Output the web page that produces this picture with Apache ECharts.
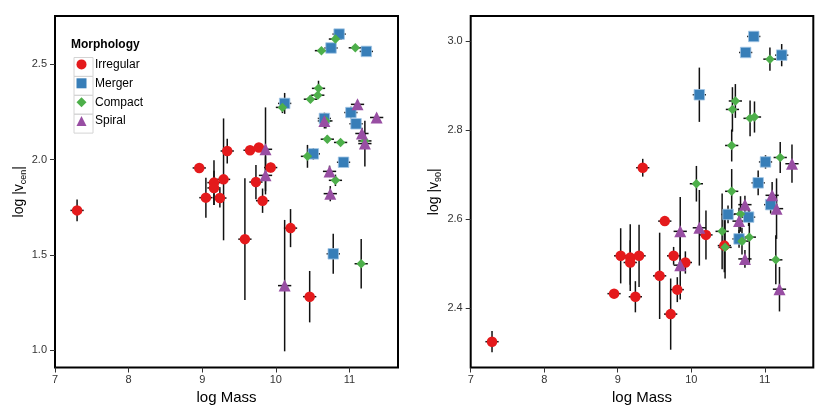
<!DOCTYPE html>
<html>
<head>
<meta charset="utf-8">
<script src="https://cdn.jsdelivr.net/npm/echarts@6/dist/echarts.min.js"></script>
<style>
html,body{margin:0;padding:0;background:#fff;}
#chart{width:830px;height:415px;}
</style>
</head>
<body>
<div id="chart"></div>
<script>
// ---------- data ----------
const MORPHOLOGIES = ['Irregular', 'Merger', 'Compact', 'Spiral'];
const X_TICKS = [7, 8, 9, 10, 11];
const CEN_TICKS = [1.0, 1.5, 2.0, 2.5];
const V90_TICKS = [2.4, 2.6, 2.8, 3.0];
const MASS_ERR = 0.09;

// [log Mass, log |v_cen|, error]
const IRREGULAR_CEN = [
  [7.30, 1.733, 0.057], [8.96, 1.956, 0.02], [9.05, 1.800, 0.105], [9.16, 1.879, 0.117],
  [9.16, 1.851, 0.09], [9.24, 1.798, 0.05], [9.29, 1.896, 0.32], [9.34, 2.045, 0.065],
  [9.58, 1.582, 0.32], [9.65, 2.049, 0.02], [9.73, 1.882, 0.09], [9.77, 2.063, 0.02],
  [9.82, 1.784, 0.064], [9.93, 1.958, 0.025], [10.20, 1.640, 0.10], [10.46, 1.280, 0.135]
];
const MERGER_CEN = [
  [10.12, 2.295, 0.055], [10.51, 2.030, 0.03], [10.66, 2.216, 0.03], [10.75, 2.586, 0.02],
  [10.78, 1.505, 0.105], [10.86, 2.659, 0.02], [10.92, 1.986, 0.02], [11.02, 2.247, 0.03],
  [11.09, 2.188, 0.02], [11.23, 2.568, 0.02]
];
const COMPACT_CEN = [
  [10.09, 2.274, 0.03], [10.43, 2.017, 0.06], [10.47, 2.317, 0.02], [10.57, 2.338, 0.02],
  [10.58, 2.374, 0.04], [10.62, 2.572, 0.01], [10.68, 2.203, 0.04], [10.70, 2.107, 0.02],
  [10.81, 2.633, 0.02], [10.81, 1.891, 0.03], [10.88, 2.090, 0.015], [11.08, 2.587, 0.01],
  [11.16, 1.453, 0.13], [11.21, 2.098, 0.03]
];
const SPIRAL_CEN = [
  [9.86, 2.054, 0.22], [9.86, 1.917, 0.10], [10.12, 1.338, 0.345], [10.66, 2.203, 0.04],
  [10.73, 1.938, 0.03], [10.74, 1.821, 0.04], [11.11, 2.290, 0.02], [11.17, 2.137, 0.03],
  [11.21, 2.084, 0.12], [11.37, 2.221, 0.02]
];

// [log Mass, log |v_90|, error]
const IRREGULAR_V90 = [
  [7.29, 2.324, 0.024], [8.95, 2.432, 0.01], [9.04, 2.517, 0.062], [9.17, 2.513, 0.075],
  [9.17, 2.502, 0.05], [9.24, 2.425, 0.035], [9.29, 2.517, 0.07], [9.34, 2.715, 0.02],
  [9.57, 2.472, 0.097], [9.64, 2.595, 0.01], [9.72, 2.386, 0.08], [9.76, 2.517, 0.02],
  [9.81, 2.441, 0.028], [9.92, 2.502, 0.025], [10.20, 2.564, 0.055], [10.45, 2.540, 0.06]
];
const MERGER_V90 = [
  [10.11, 2.879, 0.061], [10.50, 2.610, 0.02], [10.65, 2.555, 0.02], [10.74, 2.974, 0.01],
  [10.78, 2.604, 0.02], [10.85, 3.010, 0.01], [10.91, 2.681, 0.028], [11.01, 2.728, 0.015],
  [11.08, 2.632, 0.02], [11.23, 2.968, 0.025]
];
const COMPACT_V90 = [
  [10.07, 2.679, 0.04], [10.42, 2.572, 0.085], [10.46, 2.536, 0.07], [10.55, 2.765, 0.036],
  [10.55, 2.662, 0.05], [10.56, 2.846, 0.05], [10.60, 2.865, 0.038], [10.67, 2.611, 0.04],
  [10.69, 2.550, 0.03], [10.79, 2.559, 0.06], [10.80, 2.826, 0.04], [10.86, 2.829, 0.035],
  [11.07, 2.959, 0.026], [11.15, 2.508, 0.055], [11.21, 2.738, 0.035]
];
const SPIRAL_V90 = [
  [9.85, 2.572, 0.077], [9.85, 2.496, 0.077], [10.11, 2.580, 0.085], [10.65, 2.595, 0.03],
  [10.73, 2.632, 0.02], [10.73, 2.510, 0.02], [11.10, 2.653, 0.03], [11.16, 2.623, 0.068],
  [11.20, 2.442, 0.05], [11.37, 2.724, 0.043]
];

// ---------- styling ----------
const COLORS = ['#E41A1C', '#377EB8', '#4DAF4A', '#984EA3'];
const SYMBOLS = ['circle', 'rect', 'diamond', 'triangle'];
const SIZES = [10.5, 10.5, 9.5, 12];
const FONT = 'Liberation Sans, Arial, Helvetica, sans-serif';

const CEN_GROUPS = [IRREGULAR_CEN, MERGER_CEN, COMPACT_CEN, SPIRAL_CEN];
const V90_GROUPS = [IRREGULAR_V90, MERGER_V90, COMPACT_V90, SPIRAL_V90];

function errRender(params, api) {
  const x = api.value(0), y = api.value(1), e = api.value(2);
  const top = api.coord([x, y + e]);
  const bot = api.coord([x, y - e]);
  const l = api.coord([x - MASS_ERR, y]);
  const r = api.coord([x + MASS_ERR, y]);
  const style = { stroke: '#111', lineWidth: 1.5 };
  return {
    type: 'group',
    children: [
      { type: 'line', shape: { x1: top[0], y1: top[1], x2: bot[0], y2: bot[1] }, style: style },
      { type: 'line', shape: { x1: l[0], y1: l[1], x2: r[0], y2: r[1] }, style: style }
    ]
  };
}

function xAxisFor(idx) {
  return {
    gridIndex: idx, type: 'value', min: 7, max: 11.66, interval: 1,
    axisLine: { show: false },
    axisTick: { show: true, length: 5, lineStyle: { color: '#333', width: 1 }, customValues: X_TICKS },
    axisLabel: { fontSize: 11, color: '#333', margin: 7, fontFamily: FONT,
      customValues: X_TICKS },
    splitLine: { show: false },
    name: 'log Mass', nameLocation: 'middle', nameGap: 19,
    nameTextStyle: { fontSize: 15, color: '#000', fontFamily: FONT }
  };
}

function yAxisFor(idx, min, max, ticks, sub, gap) {
  return {
    gridIndex: idx, type: 'value', min: min, max: max,
    axisLine: { show: false },
    axisTick: { show: true, length: 5, lineStyle: { color: '#333', width: 1 }, customValues: ticks },
    axisLabel: { fontSize: 11, color: '#333', margin: 8, fontFamily: FONT,
      customValues: ticks, formatter: v => v.toFixed(1) },
    splitLine: { show: false },
    name: 'log |v{sub|' + sub + '}|', nameLocation: 'middle', nameGap: gap, nameRotate: 90,
    nameTextStyle: {
      fontSize: 14, color: '#000', fontFamily: FONT, lineHeight: 18,
      rich: { sub: { fontSize: 9, lineHeight: 9, verticalAlign: 'bottom', color: '#000', fontFamily: FONT } }
    }
  };
}

const series = [];
[CEN_GROUPS, V90_GROUPS].forEach((groups, p) => {
  const all = [];
  groups.forEach(g => g.forEach(d => all.push(d)));
  series.push({
    type: 'custom', xAxisIndex: p, yAxisIndex: p, z: 1, silent: true,
    renderItem: errRender, encode: { x: 0, y: 1 }, data: all
  });
  groups.forEach((g, i) => {
    series.push({
      type: 'scatter', name: MORPHOLOGIES[i], xAxisIndex: p, yAxisIndex: p, z: 3,
      symbol: SYMBOLS[i], symbolSize: SIZES[i],
      itemStyle: i === 1
        ? { color: COLORS[i], opacity: 1, borderColor: '#a3c7e6', borderWidth: 0.8 }
        : { color: COLORS[i], opacity: 1 },
      data: g.map(d => [d[0], d[1]])
    });
  });
});

const legendBoxes = MORPHOLOGIES.map((m, i) => ({
  type: 'rect', left: 71.5, top: 55 + i * 18.9,
  shape: { width: 19, height: 18.9 },
  style: { fill: 'none', stroke: '#d4d4d4', lineWidth: 1 }, z: 10
}));

const chart = echarts.init(document.getElementById('chart'), null, { renderer: 'canvas' });
chart.setOption({
  animation: false,
  backgroundColor: '#ffffff',
  textStyle: { fontFamily: FONT },
  title: {
    text: 'Morphology', left: 71, top: 39, padding: 0,
    textStyle: { fontSize: 12, fontWeight: 'bold', color: '#000', fontFamily: FONT }
  },
  legend: {
    data: MORPHOLOGIES.map((m, i) => ({
      name: m, icon: SYMBOLS[i],
      itemStyle: { color: COLORS[i], borderWidth: 0, opacity: 1 }
    })),
    orient: 'vertical', left: 71.5, top: 53.4, padding: 5,
    itemWidth: 10, itemHeight: 10, itemGap: 6.9,
    textStyle: { fontSize: 12, color: '#000', lineHeight: 12, fontFamily: FONT, padding: [0, 0, 0, 3.5] },
    selectedMode: false
  },
  graphic: legendBoxes,
  grid: [
    { left: 55, top: 16, width: 343, height: 351.5, show: true, borderColor: '#000', borderWidth: 2, backgroundColor: '#fff', containLabel: false },
    { left: 470.7, top: 16, width: 342.6, height: 351.5, show: true, borderColor: '#000', borderWidth: 2, backgroundColor: '#fff', containLabel: false }
  ],
  xAxis: [xAxisFor(0), xAxisFor(1)],
  yAxis: [
    yAxisFor(0, 0.908, 2.754, CEN_TICKS, 'cen', 27),
    yAxisFor(1, 2.266, 3.056, V90_TICKS, '90', 26)
  ],
  series: series
});
</script>
</body>
</html>
